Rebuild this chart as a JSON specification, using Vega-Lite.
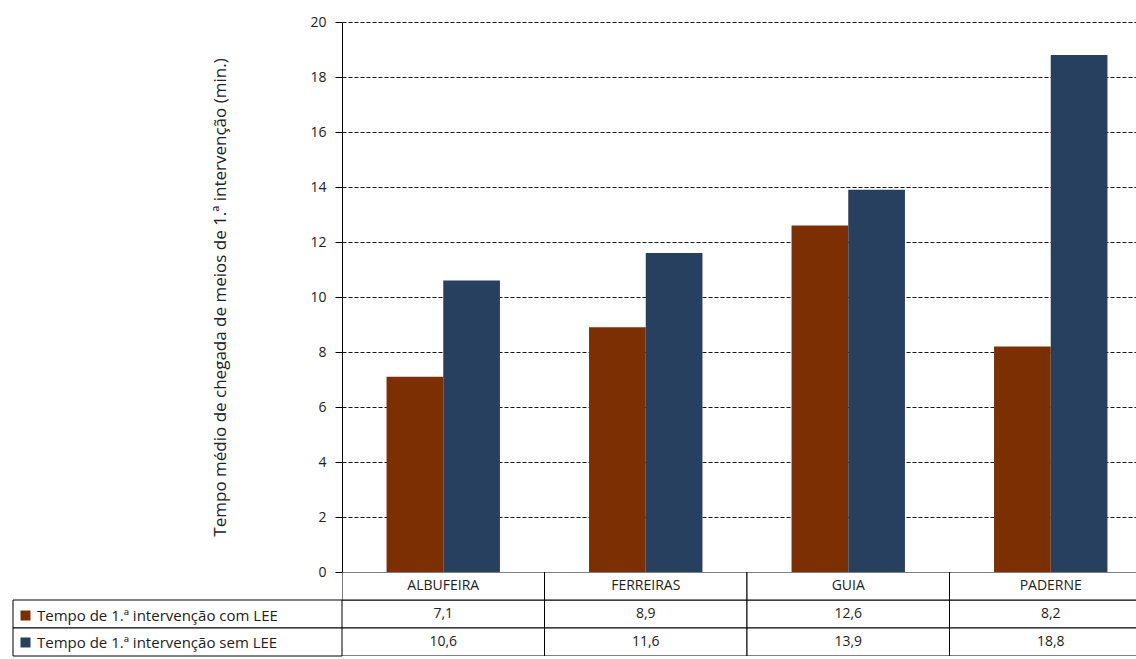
{
  "$schema": "https://vega.github.io/schema/vega-lite/v6.json",
  "padding": {"left": 12, "top": 15, "right": 0, "bottom": 1},
  "autosize": {"type": "pad"},
  "datasets": {
    "bars": [
      {"lugar": "ALBUFEIRA", "serie": "Tempo de 1.ª intervenção com LEE", "valor": 7.1},
      {"lugar": "FERREIRAS", "serie": "Tempo de 1.ª intervenção com LEE", "valor": 8.9},
      {"lugar": "GUIA", "serie": "Tempo de 1.ª intervenção com LEE", "valor": 12.6},
      {"lugar": "PADERNE", "serie": "Tempo de 1.ª intervenção com LEE", "valor": 8.2},
      {"lugar": "ALBUFEIRA", "serie": "Tempo de 1.ª intervenção sem LEE", "valor": 10.6},
      {"lugar": "FERREIRAS", "serie": "Tempo de 1.ª intervenção sem LEE", "valor": 11.6},
      {"lugar": "GUIA", "serie": "Tempo de 1.ª intervenção sem LEE", "valor": 13.9},
      {"lugar": "PADERNE", "serie": "Tempo de 1.ª intervenção sem LEE", "valor": 18.8}
    ]
  },
  "config": {
    "view": {"stroke": null},
    "font": "Open Sans",
    "locale": {"number": {"decimal": ",", "thousands": ".", "grouping": [3], "currency": ["", " €"]}}
  },
  "columns": 2,
  "spacing": {"row": 0, "column": 0},
  "bounds": "flush",
  "concat": [
    {
      "width": 329,
      "height": 550,
      "data": {"values": []},
      "mark": {"type": "rect"},
      "encoding": {}
    },
    {
      "width": 794,
      "height": 550,
      "data": {"name": "bars"},
      "mark": {"type": "bar"},
      "encoding": {
        "x": {
          "field": "lugar", "type": "nominal",
          "scale": {"domain": ["ALBUFEIRA", "FERREIRAS", "GUIA", "PADERNE"], "range": [0, 810], "paddingInner": 0.44, "paddingOuter": 0.22},
          "axis": null
        },
        "xOffset": {
          "field": "serie", "type": "nominal",
          "scale": {"domain": ["Tempo de 1.ª intervenção com LEE", "Tempo de 1.ª intervenção sem LEE"]}
        },
        "y": {
          "field": "valor", "type": "quantitative",
          "scale": {"domain": [0, 20]},
          "axis": {
            "title": "Tempo médio de chegada de meios de 1.ª intervenção (min.)",
            "values": [0, 2, 4, 6, 8, 10, 12, 14, 16, 18, 20],
            "grid": true, "gridColor": "#000", "gridDash": [4, 2], "gridOpacity": 0.9,
            "domainColor": "#000", "tickColor": "#000", "tickSize": 7,
            "labelPadding": 9, "labelFontSize": 14, "labelColor": "#222",
            "titleFontSize": 17, "titleFontWeight": "normal", "titleColor": "#222",
            "titlePadding": 80
          }
        },
        "color": {
          "field": "serie", "type": "nominal",
          "scale": {
            "domain": ["Tempo de 1.ª intervenção com LEE", "Tempo de 1.ª intervenção sem LEE"],
            "range": ["#7B2F02", "#27405F"]
          },
          "legend": {
            "title": null, "orient": "none", "legendX": 5, "legendY": 586,
            "direction": "vertical", "symbolType": "square", "symbolSize": 100,
            "symbolStrokeWidth": 0, "labelFontSize": 15, "labelColor": "#222",
            "rowPadding": 11, "padding": 0, "labelLimit": 400, "labelOffset": 4
          }
        }
      }
    },
    {
      "width": 329,
      "height": 84,
      "data": {"name": "bars"},
      "transform": [{"filter": "datum.lugar == 'ALBUFEIRA'"}],
      "mark": {"type": "rect", "fill": "white", "stroke": "#000", "strokeWidth": 1},
      "encoding": {
        "y": {
          "field": "serie", "type": "nominal",
          "scale": {"domain": ["cab", "Tempo de 1.ª intervenção com LEE", "Tempo de 1.ª intervenção sem LEE"], "paddingInner": 0, "paddingOuter": 0},
          "axis": null
        }
      }
    },
    {
      "width": 794,
      "height": 84,
      "data": {"name": "bars"},
      "encoding": {
        "x": {
          "field": "lugar", "type": "nominal",
          "scale": {"domain": ["ALBUFEIRA", "FERREIRAS", "GUIA", "PADERNE"], "range": [0, 810], "paddingInner": 0, "paddingOuter": 0},
          "axis": null
        }
      },
      "layer": [
        {
          "mark": {"type": "rect", "fill": "white", "stroke": "#000", "strokeWidth": 1, "clip": true},
          "encoding": {
            "y": {
              "field": "serie", "type": "nominal",
              "scale": {"domain": ["cab", "Tempo de 1.ª intervenção com LEE", "Tempo de 1.ª intervenção sem LEE"], "paddingInner": 0, "paddingOuter": 0},
              "axis": null
            }
          }
        },
        {
          "transform": [{"filter": "datum.serie == 'Tempo de 1.ª intervenção com LEE'"}],
          "mark": {"type": "rect", "fill": "white", "stroke": "#000", "strokeWidth": 1, "clip": true},
          "encoding": {"y": {"datum": "cab", "type": "nominal"}}
        },
        {
          "mark": {"type": "text", "fontSize": 14, "color": "#222"},
          "encoding": {
            "y": {"field": "serie", "type": "nominal"},
            "text": {"field": "valor", "type": "quantitative", "format": ".1f"}
          }
        },
        {
          "transform": [{"filter": "datum.serie == 'Tempo de 1.ª intervenção com LEE'"}],
          "mark": {"type": "text", "fontSize": 14, "color": "#222"},
          "encoding": {
            "y": {"datum": "cab", "type": "nominal"},
            "text": {"field": "lugar", "type": "nominal"}
          }
        }
      ]
    }
  ]
}
